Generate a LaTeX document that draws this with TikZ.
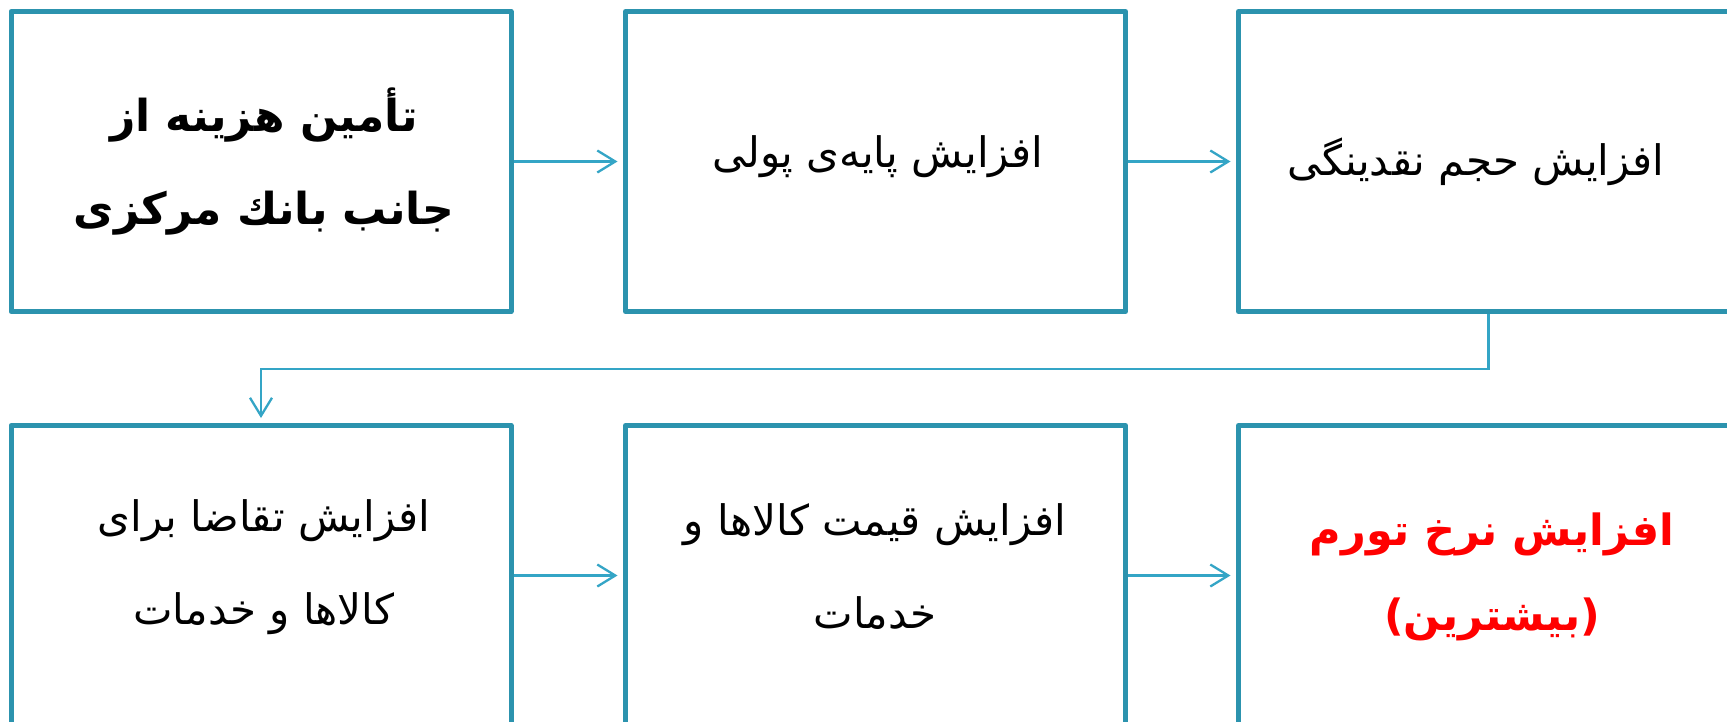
\documentclass[tikz,border=0pt]{standalone}
\usepackage{fontspec}
\newfontfamily\arabicfont[Script=Arabic]{DejaVu Sans}
\TeXXeTstate=1
\usetikzlibrary{arrows.meta}
\definecolor{boxc}{RGB}{44,147,174}
\definecolor{arrc}{RGB}{52,165,198}
\definecolor{redc}{RGB}{255,0,0}
\begin{document}
\begin{tikzpicture}[x=1pt,y=-1pt,
  box/.style={draw=boxc,line width=5pt,line join=round,minimum width=500pt,minimum height=300pt,inner sep=0pt},
  txt/.style={font=\arabicfont\fontsize{42}{93}\selectfont,align=center,inner sep=0pt},
  btxt/.style={font=\arabicfont\bfseries\fontsize{44}{93}\selectfont,align=center,inner sep=0pt},
  conn/.style={draw=arrc,line width=2.3pt,-{Straight Barb[length=18pt,width=22pt,line width=2.3pt]}}]
\clip (0,0) rectangle (1727,721);
\fill[white] (0,0) rectangle (1727,721);
\node[box] (b1) at (261,161.5) {};
\node[box] (b2) at (875.5,161.5) {};
\node[box] (b3) at (1488.5,161.5) {};
\node[box] (b4) at (261,575.5) {};
\node[box] (b5) at (875.5,575.5) {};
\node[box] (b6) at (1488.5,575.5) {};
\node[btxt] (t1) at (264,162) {\beginR تأمین هزینه از\endR\\\beginR جانب بانك مرکزی\endR};
\node[txt] (t2) at (878,157) {\beginR افزایش پایه‌ی پولی\endR};
\node[txt] (t3) at (1476,162) {\beginR افزایش حجم نقدینگی\endR};
\node[txt] (t4) at (264,567) {\beginR افزایش تقاضا برای\endR\\\beginR کالاها و خدمات\endR};
\node[txt] (t5) at (875,567) {\beginR افزایش قیمت کالاها و\endR\\\beginR خدمات\endR};
\node[btxt,text=redc,font=\arabicfont\bfseries\fontsize{43}{85}\selectfont] (t6) at (1492,577) {\beginR افزایش نرخ تورم\endR\\\beginR (بیشترین)\endR};
\draw[conn,shorten >=5.5pt] (b1.east) -- (b2.west);
\draw[conn,shorten >=5.5pt] (b2.east) -- (b3.west);
\draw[conn,shorten >=5.5pt] (b4.east) -- (b5.west);
\draw[conn,shorten >=5.5pt] (b5.east) -- (b6.west);
\draw[conn,shorten >=5pt] (b3.south) -- ++(0,55) -| (b4.north);
\end{tikzpicture}
\end{document}
